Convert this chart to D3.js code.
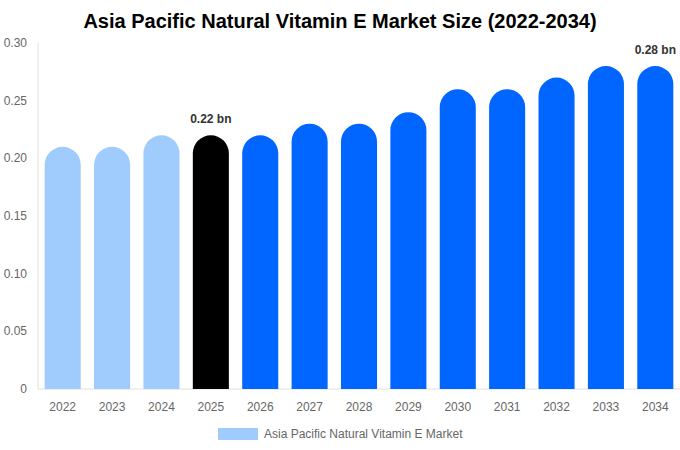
<!DOCTYPE html>
<html>
<head>
<meta charset="utf-8">
<script src="https://cdn.jsdelivr.net/npm/d3@7"></script>
<style>
  body { margin: 0; background: #fff; }
  text { font-family: "Liberation Sans", Arial, sans-serif; }
</style>
</head>
<body>
<div id="chart"></div>
<script>
const years = ["2022", "2023", "2024", "2025", "2026", "2027", "2028", "2029", "2030", "2031", "2032", "2033", "2034"];
const values = [0.21, 0.21, 0.22, 0.22, 0.22, 0.23, 0.23, 0.24, 0.26, 0.26, 0.27, 0.28, 0.28];
const yTicks = [0, 0.05, 0.10, 0.15, 0.20, 0.25, 0.30];
const labelled = { "2025": "0.22 bn", "2034": "0.28 bn" };
const seriesName = "Asia Pacific Natural Vitamin E Market";

const width = 680, height = 450;
const margin = { top: 43, right: 0, bottom: 61, left: 38 };

const svg = d3.select('#chart').append('svg')
    .attr('width', width)
    .attr('height', height);

svg.append('text')
    .attr('x', width / 2)
    .attr('y', 28)
    .attr('text-anchor', 'middle')
    .style('font-size', '20px')
    .style('font-weight', 'bold')
    .attr('fill', '#000')
    .text('Asia Pacific Natural Vitamin E Market Size (2022-2034)');

const x = d3.scaleBand()
    .domain(years)
    .range([margin.left, width - margin.right])
    .paddingInner(0.27)
    .paddingOuter(0.135);

const y = d3.scaleLinear()
    .domain([0, 0.30])
    .range([height - margin.bottom, margin.top]);

// colour by period: history, base year, forecast
function barColor(yr) {
    if (+yr < 2025) return '#a0cbfd';
    if (+yr === 2025) return '#000000';
    return '#0066ff';
}

// axes lines
svg.append('line')
    .attr('x1', margin.left).attr('x2', margin.left)
    .attr('y1', y(0.30)).attr('y2', y(0))
    .attr('stroke', '#e0e0e0');
svg.append('line')
    .attr('x1', margin.left).attr('x2', width)
    .attr('y1', y(0)).attr('y2', y(0))
    .attr('stroke', '#e0e0e0');

// y tick labels
svg.selectAll('.ytick')
    .data(yTicks)
    .enter().append('text')
    .attr('class', 'ytick')
    .attr('x', 27)
    .attr('y', d => y(d) + 4)
    .attr('text-anchor', 'end')
    .style('font-size', '12px')
    .attr('fill', '#666')
    .text(d => d === 0 ? '0' : d.toFixed(2));

// x tick labels
svg.selectAll('.xtick')
    .data(years)
    .enter().append('text')
    .attr('class', 'xtick')
    .attr('x', d => x(d) + x.bandwidth() / 2)
    .attr('y', y(0) + 22)
    .attr('text-anchor', 'middle')
    .style('font-size', '12px')
    .attr('fill', '#666')
    .text(d => d);

// bars with fully rounded tops
const bw = x.bandwidth();
const r = bw / 2;
svg.selectAll('.bar')
    .data(years.map((yr, i) => ({ year: yr, value: values[i] })))
    .enter().append('path')
    .attr('class', 'bar')
    .attr('fill', d => barColor(d.year))
    .attr('d', d => {
        const x0 = x(d.year), top = y(d.value), base = y(0);
        return `M${x0},${base} V${top + r} A${r},${r} 0 0 1 ${x0 + bw},${top + r} V${base} Z`;
    });

// value labels
svg.selectAll('.vlabel')
    .data(years.filter(yr => labelled[yr]))
    .enter().append('text')
    .attr('class', 'vlabel')
    .attr('x', d => x(d) + bw / 2)
    .attr('y', d => y(values[years.indexOf(d)]) - 12)
    .attr('text-anchor', 'middle')
    .style('font-size', '12px')
    .style('font-weight', 'bold')
    .attr('fill', '#333')
    .text(d => labelled[d]);

// legend
const legend = svg.append('g');
legend.append('rect')
    .attr('x', 218).attr('y', 428)
    .attr('width', 40).attr('height', 12)
    .attr('fill', '#a0cbfd');
legend.append('text')
    .attr('x', 264).attr('y', 438)
    .style('font-size', '12px')
    .attr('fill', '#666')
    .text(seriesName);
</script>
</body>
</html>
